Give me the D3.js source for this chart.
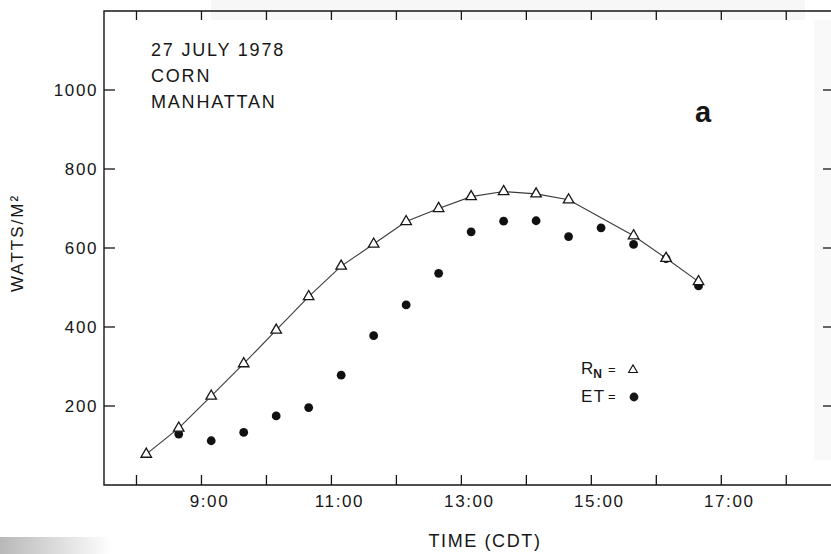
<!DOCTYPE html>
<html>
<head>
<meta charset="utf-8">
<script src="https://cdn.jsdelivr.net/npm/d3@7"></script>
<style>
  body { margin: 0; background: #fff; }
  svg { display: block; font-family: "Liberation Sans", Arial, sans-serif; }
</style>
</head>
<body>
<script>
// net radiation (triangles) and evapotranspiration (dots), decimal hours CDT
const rnTime = [8.15, 8.65, 9.15, 9.65, 10.15, 10.65, 11.15, 11.65, 12.15, 12.65, 13.15, 13.65, 14.15, 14.65, 15.65, 16.15, 16.65]
const rnValue = [78, 144, 225, 307, 392, 477, 554, 610, 667, 700, 730, 743, 737, 722, 631, 574, 515]

const etTime = [8.65, 9.15, 9.65, 10.15, 10.65, 11.15, 11.65, 12.15, 12.65, 13.15, 13.65, 14.15, 14.65, 15.15, 15.65, 16.15, 16.65]
const etValue = [129, 112, 133, 175, 196, 278, 378, 456, 536, 641, 668, 669, 629, 651, 609, 573, 504]

const hourTicks = [8, 9, 10, 11, 12, 13, 14, 15, 16, 17, 18]
const hourLabels = [9, 11, 13, 15, 17]
const wattTicks = [200, 400, 600, 800, 1000]
const noteLines = ["27 JULY 1978", "CORN", "MANHATTAN"]

const width = 831
const height = 554
const margin = {top: 11, right: -4, bottom: 69, left: 104}
const ink = "#161616"

const svg = d3.select("body").append("svg")
    .attr("width", width)
    .attr("height", height)

// scan artifacts of the original page
const grad = svg.append("defs").append("linearGradient").attr("id", "scan")
grad.append("stop").attr("offset", "0%").attr("stop-color", "#b8b8b8")
grad.append("stop").attr("offset", "100%").attr("stop-color", "#fff")
svg.append("rect").attr("x", 0).attr("y", 537).attr("width", 112).attr("height", 17).attr("fill", "url(#scan)")
svg.append("rect").attr("x", 211).attr("y", 0).attr("width", 594).attr("height", 20).attr("fill", "#f7f7f7")
svg.append("rect").attr("x", 814).attr("y", 20).attr("width", 17).attr("height", 440).attr("fill", "#f9f9f9")

const x = d3.scaleLinear()
    .domain([7.5, 18.75])
    .range([margin.left, width - margin.right])

const y = d3.scaleLinear()
    .domain([0, 1200])
    .range([height - margin.bottom, margin.top])

const x0 = x.range()[0], x1 = x.range()[1]
const y0 = y.range()[0], y1 = y.range()[1]

// frame
svg.append("path")
    .attr("d", `M${x1},${y1}H${x0}V${y0}H${x1}`)
    .attr("fill", "none")
    .attr("stroke", ink)
    .attr("stroke-width", 1.4)

const ticks = svg.append("g")
    .attr("stroke", ink)
    .attr("stroke-width", 1.3)

ticks.selectAll(".xb")
    .data(hourTicks)
    .join("line")
    .attr("x1", d => x(d)).attr("x2", d => x(d))
    .attr("y1", y0).attr("y2", y0 - 10)

ticks.selectAll(".xt")
    .data(hourTicks)
    .join("line")
    .attr("x1", d => x(d)).attr("x2", d => x(d))
    .attr("y1", y1).attr("y2", y1 + 9)

ticks.selectAll(".yl")
    .data(wattTicks)
    .join("line")
    .attr("x1", x0).attr("x2", x0 + 11)
    .attr("y1", d => y(d)).attr("y2", d => y(d))

ticks.selectAll(".yr")
    .data(wattTicks)
    .join("line")
    .attr("x1", x1).attr("x2", x1 - 12)
    .attr("y1", d => y(d)).attr("y2", d => y(d))

// tick labels
svg.append("g")
    .attr("fill", ink)
    .attr("font-size", 17)
    .attr("letter-spacing", 1.6)
    .attr("text-anchor", "end")
  .selectAll("text")
  .data(wattTicks)
  .join("text")
    .attr("x", x0 - 6)
    .attr("y", d => y(d) + 6)
    .text(d => d)

svg.append("g")
    .attr("fill", ink)
    .attr("font-size", 17)
    .attr("letter-spacing", 1.6)
    .attr("text-anchor", "middle")
  .selectAll("text")
  .data(hourLabels)
  .join("text")
    .attr("x", d => x(d) + 8)
    .attr("y", 507)
    .text(d => d + ":00")

// axis titles
svg.append("text")
    .attr("x", 485)
    .attr("y", 547)
    .attr("text-anchor", "middle")
    .attr("font-size", 18)
    .attr("letter-spacing", 1.6)
    .attr("fill", ink)
    .text("TIME (CDT)")

svg.append("text")
    .attr("transform", "translate(23,243) rotate(-90)")
    .attr("text-anchor", "middle")
    .attr("font-size", 17)
    .attr("letter-spacing", 2)
    .attr("fill", ink)
    .text("WATTS/M²")

// annotation block
svg.append("g")
    .attr("fill", ink)
    .attr("font-size", 18)
    .attr("letter-spacing", 1.8)
  .selectAll("text")
  .data(noteLines)
  .join("text")
    .attr("x", 151)
    .attr("y", (d, i) => 56 + i * 26)
    .text(d => d)

svg.append("text")
    .attr("x", 703)
    .attr("y", 122)
    .attr("text-anchor", "middle")
    .attr("font-size", 29)
    .attr("font-weight", "bold")
    .attr("fill", ink)
    .text("a")

// Rn line + triangles
const rn = rnTime.map((t, i) => ({t: t, v: rnValue[i]}))
const et = etTime.map((t, i) => ({t: t, v: etValue[i]}))

svg.append("path")
    .datum(rn)
    .attr("fill", "none")
    .attr("stroke", "#3a3a3a")
    .attr("stroke-width", 1.1)
    .attr("d", d3.line().x(d => x(d.t)).y(d => y(d.v)))

svg.append("g")
  .selectAll("circle")
  .data(et)
  .join("circle")
    .attr("cx", d => x(d.t))
    .attr("cy", d => y(d.v))
    .attr("r", 4.4)
    .attr("fill", "#111")

const tri = d3.symbol().type(d3.symbolTriangle).size(48)

svg.append("g")
  .selectAll("path")
  .data(rn)
  .join("path")
    .attr("transform", d => `translate(${x(d.t)},${y(d.v)})`)
    .attr("d", tri)
    .attr("fill", "#fff")
    .attr("stroke", ink)
    .attr("stroke-width", 1.3)

// legend
const legend = svg.append("g")
    .attr("fill", ink)
    .attr("font-size", 17)

let rnLabel = legend.append("text").attr("x", 581).attr("y", 374)
rnLabel.append("tspan").text("R")
rnLabel.append("tspan").attr("dy", 4).attr("font-size", 12).attr("font-weight", "bold").text("N")
rnLabel.append("tspan").attr("dy", -4).attr("dx", 6).attr("font-size", 13).text("=")

legend.append("path")
    .attr("transform", "translate(633,370)")
    .attr("d", d3.symbol().type(d3.symbolTriangle).size(34))
    .attr("fill", "#fff")
    .attr("stroke", ink)
    .attr("stroke-width", 1.1)

legend.append("text")
    .attr("x", 581)
    .attr("y", 402)
    .attr("letter-spacing", 1.5)
    .text("ET")
legend.append("text")
    .attr("x", 608)
    .attr("y", 401)
    .attr("font-size", 13)
    .text("=")

legend.append("circle")
    .attr("cx", 634)
    .attr("cy", 397)
    .attr("r", 4.4)
</script>
</body>
</html>
